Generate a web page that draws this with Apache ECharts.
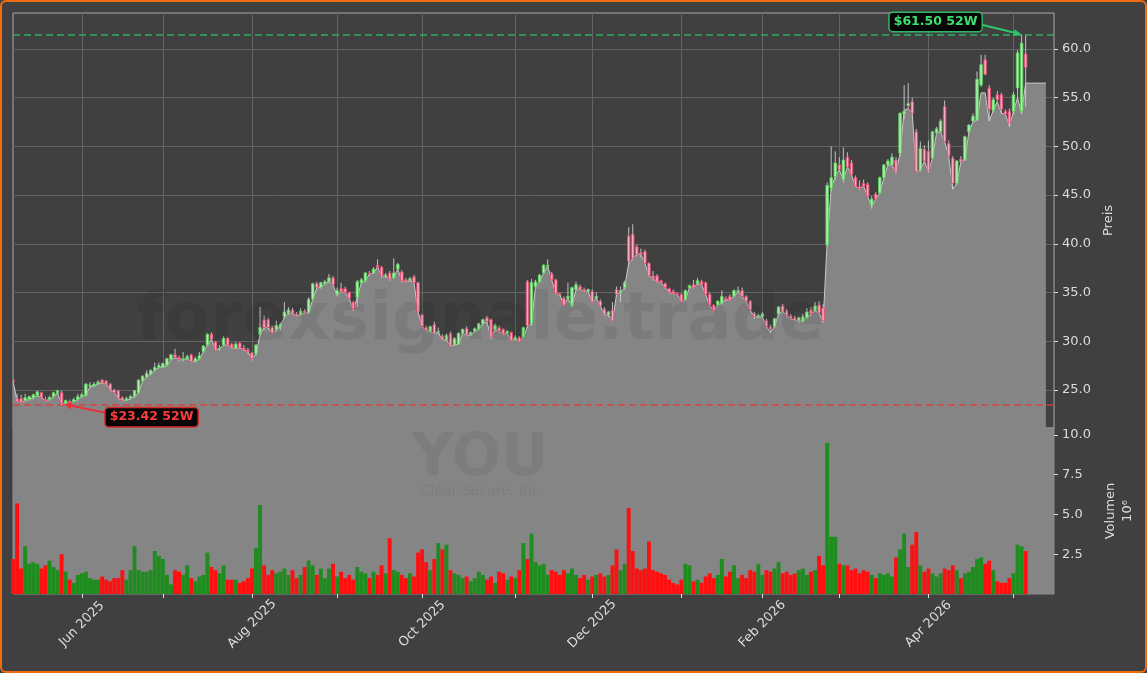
<!DOCTYPE html>
<html><head><meta charset="utf-8">
<script src="https://cdn.jsdelivr.net/npm/echarts@6/dist/echarts.min.js"></script>
<style>
html,body{margin:0;padding:0;background:#ffffff;}
#wrap{position:relative;width:1147px;height:673px;overflow:hidden;}
#chart{position:absolute;left:0;top:0;width:1147px;height:673px;background:#404040;}
#frame{position:absolute;left:0;top:0;width:1147px;height:673px;box-sizing:border-box;border:2px solid #f26b10;border-radius:6px;pointer-events:none;}
</style></head><body>
<div id="wrap"><div id="chart"></div><div id="frame"></div></div>
<script>
// ---------- data ----------
const firstDay = '2025-05-07';
const lastDay = '2026-05-06';
const padFrom = '2026-05-07';
const padTo = '2026-05-15';
const holidays = ['2025-05-26','2025-06-19','2025-07-04','2025-09-01','2025-11-27','2025-12-25',
  '2026-01-01','2026-01-19','2026-02-16','2026-04-03'];
const monthNames = ['Jan','Feb','Mar','Apr','May','Jun','Jul','Aug','Sep','Oct','Nov','Dec'];

const opens = [
26.0,24.1,24.1,23.9,24.0,24.2,24.4,24.7,24.0,24.0,
24.3,24.7,24.7,23.6,23.8,23.8,24.0,24.3,24.4,25.4,
25.4,25.6,26.0,25.9,25.6,25.0,24.9,24.2,23.9,24.1,
24.3,24.7,25.9,26.3,26.6,27.0,27.3,27.3,27.5,28.1,
28.6,28.3,28.1,28.2,28.6,27.9,28.2,28.9,29.6,30.7,
29.9,29.2,29.6,30.3,29.7,29.3,29.8,29.3,29.1,28.8,
28.7,30.7,32.2,32.2,31.4,
31.2,31.5,32.5,32.9,33.2,32.8,32.7,33.1,32.9,34.3,
35.9,35.5,35.9,36.1,36.5,34.8,35.4,35.4,35.0,34.0,
34.5,36.0,36.2,37.0,37.0,37.8,37.6,36.7,37.0,36.5,
37.4,37.1,36.3,36.2,36.6,36.0,32.7,31.4,31.0,31.7,
30.9,30.5,30.1,30.8,29.6,29.7,30.8,31.3,30.6,31.0,
31.2,31.8,32.4,32.2,31.2,31.4,31.2,30.8,30.9,30.2,
30.4,30.4,36.1,31.8,
35.6,36.1,37.0,37.7,36.9,36.3,34.9,34.4,34.4,33.6,
35.3,35.6,35.3,35.1,35.1,34.4,34.1,33.3,32.7,33.2,
35.3,35.0,35.5,40.8,41.0,39.7,39.1,39.2,38.0,36.7,
36.7,36.2,35.9,35.4,35.1,34.9,34.8,34.3,35.5,35.8,
35.9,36.1,36.0,34.8,33.7,33.7,33.9,34.4,34.6,34.6,
35.1,35.2,34.6,34.1,32.8,32.5,32.5,32.1,31.5,31.5,
32.8,33.6,33.1,32.6,32.4,32.1,
32.0,32.4,33.2,33.1,33.7,33.4,39.9,45.7,46.9,48.1,
46.6,48.9,48.3,46.8,45.9,46.2,46.1,44.0,45.1,45.2,
46.8,48.1,48.1,48.6,49.3,53.3,54.2,54.6,51.5,47.6,
49.7,49.5,48.8,51.4,51.5,54.1,50.3,48.8,46.2,48.7,
48.6,51.5,52.6,52.7,56.3,58.9,56.0,53.7,55.3,55.3,
53.6,53.6,53.6,56.0,53.6,59.5];

const highs = [
26.1,24.6,24.5,24.6,24.4,24.6,24.9,24.8,24.3,24.4,
24.8,25.0,24.9,24.0,24.0,24.2,24.6,24.7,25.7,25.8,
25.8,26.0,26.1,26.0,25.7,25.1,25.0,24.3,24.3,24.5,
25.0,26.1,26.5,27.0,27.1,27.8,27.8,27.8,28.3,28.7,
29.2,28.5,28.9,28.6,28.7,28.4,28.9,29.6,30.8,30.9,
30.0,29.6,30.5,30.4,29.8,29.9,29.9,29.6,29.3,28.9,
29.7,33.5,32.6,32.4,31.6,
32.1,31.9,34.0,33.5,33.4,33.0,33.4,33.3,34.5,36.0,
36.1,36.1,36.3,36.9,36.7,35.5,36.0,35.6,35.1,34.1,
36.3,36.5,37.1,37.2,37.6,38.4,37.7,37.0,37.2,38.5,
38.0,37.3,36.5,36.6,36.8,36.1,32.8,31.6,31.6,32.0,
31.4,30.7,30.8,31.0,30.4,30.9,31.3,31.5,31.0,31.4,
31.9,32.3,32.6,32.3,31.8,31.6,31.3,31.1,31.0,30.6,
30.5,31.5,36.3,36.4,
36.3,36.9,37.9,38.4,37.1,36.4,35.0,34.6,36.0,35.6,
36.1,35.8,35.5,35.4,35.3,35.0,34.3,33.5,33.1,34.0,
35.6,35.6,36.2,41.7,42.0,39.9,39.5,39.4,38.1,37.2,
36.9,36.3,36.0,35.5,35.3,35.0,34.9,35.3,35.8,36.3,
36.5,36.3,36.1,35.0,33.8,34.2,35.2,34.6,34.8,35.3,
35.6,35.5,34.7,34.2,33.0,32.8,33.0,32.3,31.7,32.4,
33.6,33.8,33.3,32.8,32.6,32.5,
32.8,33.4,33.5,34.0,34.1,33.8,46.3,50.0,49.5,48.9,
49.9,49.4,48.6,47.0,46.5,46.6,46.3,44.9,45.3,46.9,
48.2,48.7,49.3,48.9,53.5,56.3,56.5,55.0,51.8,50.5,
50.1,50.6,51.6,52.0,52.8,54.7,50.6,49.0,48.6,49.0,
51.1,52.3,53.4,57.7,59.4,59.4,56.3,55.0,55.7,55.5,
53.8,53.9,55.6,59.9,61.5,61.4];

const lows = [
25.7,23.7,23.6,23.8,23.9,24.0,24.3,24.1,23.8,23.9,
24.2,24.5,23.42,23.5,23.6,23.7,23.9,24.2,24.3,25.2,
25.3,25.5,25.6,25.5,24.9,24.6,24.0,23.8,23.8,24.0,
24.2,24.6,25.8,26.2,26.5,26.9,27.2,27.2,27.4,28.0,
28.2,27.9,27.9,28.1,27.8,27.8,28.1,28.8,29.5,30.1,
29.0,29.0,29.5,29.5,29.2,29.2,29.2,29.0,28.7,28.0,
28.5,30.5,31.2,31.2,30.7,
31.0,31.1,32.3,32.7,32.7,32.5,32.6,32.8,32.8,34.2,
35.4,35.4,35.8,36.0,35.7,34.6,35.0,34.9,34.3,33.1,
33.5,35.9,36.1,36.7,36.9,37.5,36.5,36.5,36.2,36.4,
37.3,36.0,36.0,36.1,35.9,32.9,31.4,31.0,30.9,30.7,
30.7,30.0,30.0,29.4,29.5,29.6,30.7,30.5,30.5,30.9,
31.1,31.7,31.9,30.2,31.0,30.9,30.6,30.7,30.0,30.1,
29.9,30.3,31.4,31.6,
35.5,36.0,36.9,37.5,36.2,34.8,34.6,33.6,34.3,33.5,
35.2,35.2,35.0,35.0,33.9,34.3,33.5,32.6,32.5,32.0,
34.6,34.0,35.3,37.8,38.3,38.7,38.6,37.9,36.6,36.2,
36.0,35.9,35.4,34.9,34.8,34.7,34.0,34.2,35.4,35.4,
35.8,35.7,34.7,33.6,33.0,33.6,33.8,34.1,34.1,34.5,
35.0,34.5,34.0,33.1,32.3,32.4,32.4,31.4,30.8,31.4,
32.7,33.0,32.5,32.2,32.0,31.8,
31.9,32.3,32.6,33.0,32.8,31.9,39.7,45.4,46.5,47.4,
46.3,47.8,47.0,45.8,45.5,45.8,44.8,43.6,44.5,45.1,
46.7,48.0,48.0,47.2,49.0,52.8,53.9,53.3,47.3,47.4,
48.4,47.3,48.7,51.3,51.4,50.4,48.9,45.6,46.0,48.3,
48.5,51.4,52.5,52.6,56.1,57.3,52.6,53.5,54.6,53.4,
53.2,52.0,53.3,54.8,53.3,54.1];

const closes = [
25.8,23.8,23.7,24.2,24.3,24.5,24.8,24.2,23.9,24.2,
24.7,24.9,23.6,23.9,23.7,24.0,24.3,24.5,25.6,25.5,
25.6,25.8,25.7,25.6,25.0,24.7,24.1,23.9,24.1,24.3,
24.9,26.0,26.4,26.7,27.0,27.3,27.5,27.7,28.2,28.6,
28.3,28.1,28.2,28.4,27.9,28.2,28.5,29.5,30.7,30.2,
29.1,29.3,30.3,29.6,29.3,29.7,29.3,29.1,28.9,28.2,
29.6,31.4,31.4,31.4,30.8,
31.6,31.7,33.0,33.2,32.8,32.6,33.1,32.9,34.3,35.9,
35.5,36.0,36.1,36.5,35.8,35.2,35.1,35.0,34.4,33.3,
36.1,36.3,37.0,36.9,37.4,37.6,36.7,36.8,36.4,37.0,
37.9,36.2,36.1,36.4,36.0,33.0,31.5,31.1,31.5,30.8,
31.0,30.1,30.6,29.5,30.3,30.8,31.2,30.6,30.9,31.3,
31.8,32.2,32.0,30.4,31.6,31.0,30.7,31.0,30.1,30.4,
30.0,31.4,31.6,36.0,
36.1,36.8,37.8,37.8,36.3,34.9,34.8,33.7,34.6,35.5,
35.8,35.3,35.1,35.3,34.0,34.6,33.6,32.7,33.0,32.1,
34.8,35.2,36.0,38.2,38.5,38.9,38.9,38.0,36.7,36.4,
36.1,36.0,35.5,35.0,34.9,34.8,34.1,35.2,35.7,35.5,
36.2,35.8,34.8,33.7,33.1,34.1,34.6,34.3,34.2,35.2,
35.2,34.6,34.1,33.2,32.5,32.6,32.8,31.5,31.2,32.3,
33.5,33.1,32.6,32.3,32.1,32.4,
32.5,33.0,32.8,33.6,32.9,32.1,46.0,46.8,48.3,47.6,
48.6,47.9,47.1,45.9,45.7,45.9,44.9,44.6,44.6,46.8,
48.1,48.5,48.9,47.4,53.4,53.6,54.4,53.4,47.4,49.8,
48.5,47.5,51.5,51.8,52.6,50.5,49.0,46.2,48.5,48.4,
51.0,52.2,53.1,56.9,58.4,57.4,53.8,54.8,54.8,53.8,
53.3,52.4,55.3,59.6,60.6,58.1];

// grey filled price line (includes the flat run after the last session)
const priceLine = [
25.9,23.9,23.7,23.9,24.0,24.2,24.4,24.2,23.9,24.0,
24.3,24.7,23.55,23.6,23.7,23.8,24.0,24.3,24.5,25.3,
25.4,25.6,25.7,25.6,25.0,24.7,24.1,23.9,23.9,24.1,
24.3,24.7,25.9,26.3,26.6,27.0,27.3,27.3,27.5,28.1,
28.3,28.1,28.1,28.2,27.9,27.9,28.2,28.9,29.6,30.2,
29.1,29.2,29.6,29.6,29.3,29.3,29.3,29.1,28.9,28.2,
28.7,30.7,31.4,31.4,30.8,
31.2,31.5,32.5,32.9,32.8,32.6,32.7,32.9,32.9,34.3,
35.5,35.5,35.9,36.1,35.8,34.7,35.1,35.0,34.4,33.2,
34.5,36.0,36.2,36.9,37.0,37.6,36.7,36.7,36.4,36.6,
37.4,36.2,36.1,36.2,36.0,33.0,31.5,31.1,31.0,30.8,
30.9,30.1,30.1,29.5,29.6,29.7,30.8,30.6,30.6,31.0,
31.2,31.8,32.0,30.4,31.2,31.0,30.7,30.8,30.1,30.2,
30.0,30.4,31.5,31.8,
35.6,36.1,37.0,37.7,36.3,34.9,34.8,33.7,34.4,33.6,
35.3,35.3,35.1,35.1,34.0,34.4,33.6,32.7,32.7,32.1,
34.8,35.0,35.5,38.0,38.5,38.9,38.9,38.0,36.7,36.4,
36.1,36.0,35.5,35.0,34.9,34.8,34.1,34.3,35.5,35.5,
35.9,35.8,34.8,33.7,33.1,33.7,33.9,34.3,34.2,34.6,
35.1,34.6,34.1,33.2,32.5,32.5,32.5,31.5,30.9,31.5,
32.8,33.1,32.6,32.3,32.1,32.1,
32.0,32.4,32.8,33.1,32.9,32.0,40.2,45.7,46.9,47.6,
46.6,47.9,47.1,45.9,45.7,45.9,44.9,43.8,44.6,45.2,
46.8,48.1,48.1,47.3,49.3,53.7,53.9,53.4,47.4,47.6,
48.5,47.4,48.8,51.4,51.5,50.5,49.0,45.6,46.2,48.4,
48.6,51.5,52.5,52.7,55.5,55.5,52.6,53.7,54.6,53.4,
53.3,52.1,53.6,55.0,53.4,56.5,
56.5,56.5,56.5,56.5,56.5];

// volume in millions
const volumes = [
2.2,5.7,1.6,3.0,1.9,2.0,1.9,1.6,1.8,2.1,
1.7,1.5,2.5,1.4,0.9,0.7,1.2,1.3,1.4,1.0,
0.9,0.9,1.1,0.9,0.8,1.0,1.0,1.5,0.9,1.5,
3.0,1.5,1.4,1.4,1.5,2.7,2.4,2.2,1.2,0.6,
1.5,1.4,1.2,1.8,1.0,0.8,1.1,1.2,2.6,1.7,
1.5,1.3,1.8,0.9,0.9,0.9,0.7,0.8,1.0,1.6,
2.9,5.6,1.8,1.2,1.5,1.3,1.4,1.6,1.2,1.5,
1.0,1.2,1.7,2.1,1.8,1.2,1.6,1.0,1.6,1.9,
1.1,1.4,1.0,1.2,0.9,1.7,1.4,1.3,1.0,1.4,
1.2,1.8,1.3,3.5,1.5,1.4,1.2,1.0,1.3,1.1,
2.6,2.8,2.0,1.5,2.2,3.2,2.8,3.1,1.5,1.3,
1.2,1.0,1.1,0.8,1.0,1.4,1.2,0.9,1.1,0.7,
1.4,1.3,0.9,1.1,1.0,1.5,3.2,2.2,3.8,2.0,
1.8,1.9,1.2,1.5,1.4,1.2,1.5,1.3,1.6,1.2,
1.0,1.2,0.9,1.1,1.2,1.3,1.1,1.2,1.8,2.8,
1.5,1.9,5.4,2.7,1.6,1.5,1.6,3.3,1.5,1.4,
1.3,1.2,0.9,0.7,0.6,0.9,1.9,1.8,0.8,0.9,
0.7,1.1,1.3,1.0,1.2,2.2,1.1,1.4,1.8,1.0,
1.2,1.0,1.5,1.4,1.9,1.2,1.5,1.4,1.6,2.0,
1.3,1.4,1.2,1.3,1.5,1.6,1.2,1.4,1.5,2.4,
1.8,9.5,3.6,3.6,1.9,1.8,1.8,1.5,1.6,1.3,
1.5,1.4,1.2,1.0,1.3,1.2,1.3,1.1,2.3,2.8,
3.8,1.7,3.1,3.9,1.8,1.4,1.6,1.3,1.1,1.3,
1.6,1.5,1.8,1.5,1.0,1.3,1.4,1.7,2.2,2.3,
1.9,2.1,1.5,0.8,0.7,0.7,1.0,1.3,3.1,3.0,
2.7];

const priceTicks = [25,30,35,40,45,50,55,60];
const volumeTicks = [2.5,5,7.5,10];
const low52 = {index: 12, value: 23.42, text: '$23.42 52W'};
const high52 = {index: 249, value: 61.5, text: '$61.50 52W'};
const priceMin = 21.08, priceMax = 63.7;
const volMax = 10.44;

// ---------- build ----------
function tradingDays(a, b) {
  const out = [];
  const d = new Date(a + 'T00:00:00Z'), e = new Date(b + 'T00:00:00Z');
  while (d <= e) {
    const wd = d.getUTCDay();
    const s = d.toISOString().slice(0, 10);
    if (wd !== 0 && wd !== 6 && holidays.indexOf(s) < 0) out.push(s);
    d.setUTCDate(d.getUTCDate() + 1);
  }
  return out;
}
const sessions = tradingDays(firstDay, lastDay);
const dates = sessions.concat(tradingDays(padFrom, padTo));
const monthStart = dates.map((d, i) => i > 0 && d.slice(0, 7) !== dates[i - 1].slice(0, 7));
const labelAt = dates.map((d, i) => monthStart[i] && (parseInt(d.slice(5, 7), 10) % 2 === 0));

const candleData = closes.map((c, i) => [i, opens[i], c, lows[i], highs[i]]);
const volData = volumes.map((v, i) => ({
  value: v,
  itemStyle: {color: closes[i] >= opens[i] ? '#1e8c1e' : '#ff0f0f'}
}));

const FONT = '"DejaVu Sans", "Liberation Sans", sans-serif';
const TXT = '#dcdcdc';

const chart = echarts.init(document.getElementById('chart'), null, {renderer: 'canvas'});

const option = {
  animation: false,
  backgroundColor: '#404040',
  textStyle: {fontFamily: FONT},
  grid: [
    {left: 13, right: 93, top: 13, height: 415, show: true, borderColor: '#a9a9a9', borderWidth: 1, backgroundColor: 'transparent'},
    {left: 13, right: 93, top: 428, height: 166, show: true, borderColor: '#8c8c8c', borderWidth: 1, backgroundColor: '#858585'}
  ],
  xAxis: [
    {
      type: 'category', gridIndex: 0, data: dates, boundaryGap: false,
      axisLine: {show: false}, axisTick: {show: false}, axisLabel: {show: false},
      splitLine: {show: true, interval: (i) => monthStart[i], lineStyle: {color: '#636363', width: 1}}
    },
    {
      type: 'category', gridIndex: 1, data: dates, boundaryGap: false,
      axisLine: {show: false},
      axisTick: {show: true, interval: (i) => monthStart[i], length: 4, lineStyle: {color: TXT}},
      axisLabel: {
        show: true, interval: (i) => labelAt[i], rotate: 45, color: TXT, fontSize: 13, fontFamily: FONT,
        margin: 30, align: 'center', verticalAlign: 'middle',
        formatter: (v) => monthNames[parseInt(v.slice(5, 7), 10) - 1] + ' ' + v.slice(0, 4)
      },
      splitLine: {show: false}
    }
  ],
  yAxis: [
    {
      type: 'value', gridIndex: 0, position: 'right', min: priceMin, max: priceMax, splitNumber: 8,
      axisLine: {show: false},
      axisTick: {show: true, length: 4, customValues: priceTicks, lineStyle: {color: TXT}},
      axisLabel: {color: TXT, fontSize: 13, fontFamily: FONT, margin: 8, customValues: priceTicks,
        formatter: (v) => v.toFixed(1)},
      splitLine: {show: true, lineStyle: {color: '#636363', width: 1}},
      name: 'Preis', nameLocation: 'middle', nameRotate: 90, nameGap: 45,
      nameTextStyle: {color: TXT, fontSize: 13, fontFamily: FONT}
    },
    {
      type: 'value', gridIndex: 1, position: 'right', min: 0, max: volMax, interval: 2.5,
      axisLine: {show: false},
      axisTick: {show: true, length: 4, customValues: volumeTicks, lineStyle: {color: TXT}},
      axisLabel: {color: TXT, fontSize: 13, fontFamily: FONT, margin: 8, customValues: volumeTicks,
        formatter: (v) => v.toFixed(1)},
      splitLine: {show: false},
      name: 'Volumen\n10⁶', nameLocation: 'middle', nameRotate: 90, nameGap: 45,
      nameTextStyle: {color: TXT, fontSize: 13, fontFamily: FONT, lineHeight: 17}
    }
  ],
  series: [
    {
      type: 'line', xAxisIndex: 0, yAxisIndex: 0, data: priceLine, symbol: 'none', z: 2,
      lineStyle: {color: '#c9c9c9', width: 1},
      areaStyle: {color: '#858585', opacity: 1, origin: 'start'},
      markLine: {
        silent: true, symbol: 'none', label: {show: false},
        data: [
          {yAxis: low52.value, lineStyle: {color: '#e03a3a', type: [7, 4], width: 1.5, opacity: 0.9}},
          {yAxis: high52.value, lineStyle: {color: '#2fb865', type: [7, 4], width: 1.5, opacity: 0.9}}
        ]
      }
    },
    {
      type: 'custom', xAxisIndex: 0, yAxisIndex: 0, z: 6, data: candleData,
      encode: {x: 0, y: [1, 2, 3, 4]}, clip: true,
      renderItem: function (params, api) {
        const i = api.value(0), o = api.value(1), c = api.value(2), l = api.value(3), h = api.value(4);
        const pO = api.coord([i, o]), pC = api.coord([i, c]), pL = api.coord([i, l]), pH = api.coord([i, h]);
        const w = Math.max(2, api.size([1, 0])[0] * 0.62);
        const up = c >= o;
        const top = Math.min(pO[1], pC[1]), bot = Math.max(pO[1], pC[1]);
        return {
          type: 'group', children: [
            {type: 'line', shape: {x1: pL[0], y1: pL[1], x2: pH[0], y2: pH[1]}, style: {stroke: '#cfcfcf', lineWidth: 0.9}},
            {type: 'rect', shape: {x: pO[0] - w / 2, y: top, width: w, height: Math.max(1, bot - top)},
              style: {fill: up ? '#b4ecb4' : '#f2aebf', stroke: up ? '#5ccf5c' : '#e3486f', lineWidth: 0.9}}
          ]
        };
      }
    },
    {
      type: 'bar', xAxisIndex: 1, yAxisIndex: 1, data: volData, barCategoryGap: '4%', z: 3
    }
  ]
};
chart.setOption(option);

// ---------- annotations & watermarks ----------
function arrowGroup(from, to, color) {
  const dx = to[0] - from[0], dy = to[1] - from[1];
  const len = Math.sqrt(dx * dx + dy * dy);
  const ux = dx / len, uy = dy / len;
  const hl = 8, hw = 3.5;
  const bx = to[0] - ux * hl, by = to[1] - uy * hl;
  return [
    {type: 'line', z: 20, shape: {x1: from[0], y1: from[1], x2: bx, y2: by}, style: {stroke: color, lineWidth: 2}},
    {type: 'polygon', z: 20, shape: {points: [[to[0], to[1]], [bx - uy * hw, by + ux * hw], [bx + uy * hw, by - ux * hw]]},
      style: {fill: color}}
  ];
}
function tag(center, text, color, border) {
  return {
    type: 'text', z: 21, x: center[0], y: center[1],
    style: {text: text, fill: color, font: 'bold 12.5px "DejaVu Sans"', align: 'center', verticalAlign: 'middle',
      backgroundColor: '#060606', borderColor: border, borderWidth: 1.5, borderRadius: 3, padding: [3, 4, 2, 4]}
  };
}
const pl = chart.convertToPixel({xAxisIndex: 0, yAxisIndex: 0}, [low52.index, low52.value]);
const ph = chart.convertToPixel({xAxisIndex: 0, yAxisIndex: 0}, [high52.index, high52.value]);
const gfx = [
  {type: 'text', z: 10, x: 480, y: 322, silent: true,
    style: {text: 'forexsignale.trade', fill: 'rgba(0,0,0,0.07)', font: 'bold 66px "DejaVu Sans"', align: 'center', verticalAlign: 'middle'}},
  {type: 'text', z: 4, x: 480, y: 460, silent: true,
    style: {text: 'YOU', fill: 'rgba(0,0,0,0.06)', font: 'bold 58px "DejaVu Sans"', align: 'center', verticalAlign: 'middle'}},
  {type: 'text', z: 4, x: 480, y: 491, silent: true,
    style: {text: 'Clear Secure, Inc', fill: 'rgba(0,0,0,0.06)', font: '14px "DejaVu Sans"', align: 'center', verticalAlign: 'middle'}}
]
  .concat(arrowGroup([pl[0] + 46, pl[1] + 8], [pl[0] + 2, pl[1] - 1], '#e8303a'))
  .concat([tag([pl[0] + 90, pl[1] + 12], low52.text, '#ff3c3c', '#d42a2a')])
  .concat(arrowGroup([ph[0] - 41, ph[1] - 10], [ph[0], ph[1]], '#2fc46a'))
  .concat([tag([ph[0] - 86, ph[1] - 12.5], high52.text, '#3ee070', '#2fb865')]);
chart.setOption({graphic: {elements: gfx}});
</script>
</body></html>
